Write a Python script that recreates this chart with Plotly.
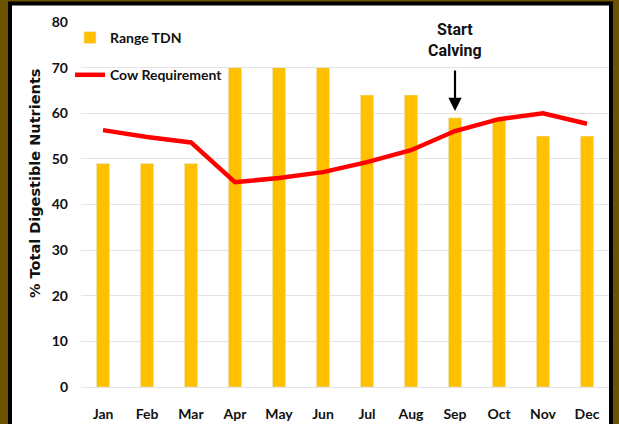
import plotly.graph_objects as go

months = ["Jan", "Feb", "Mar", "Apr", "May", "Jun", "Jul", "Aug", "Sep", "Oct", "Nov", "Dec"]
range_tdn = [49, 49, 49, 70, 70, 70, 64, 64, 59, 59, 55, 55]
cow_req = [56.3, 54.8, 53.6, 44.9, 45.8, 47.1, 49.3, 51.9, 56.1, 58.7, 60.0, 57.7]
y_ticks = [0, 10, 20, 30, 40, 50, 60, 70, 80]

TICKF = "Lato, sans-serif"
NARROW = "Roboto, Liberation Sans, sans-serif"

fig = go.Figure()
fig.add_trace(go.Bar(x=months, y=range_tdn, name="Range TDN", marker_color="#FFC000",
                     width=0.30, legendgroup="a"))
fig.add_trace(go.Scatter(x=months, y=cow_req, name="Cow Requirement", mode="lines",
                         line=dict(color="#FF0000", width=4.5), legendgroup="b"))

W, H = 619, 424
L, R, T, B = 81, 10, 22, 37
pw, ph = W - L - R, H - T - B

def px2x(px):
    return (px - L) / pw

def py2y(py):
    return (H - B - py) / ph

# frame: brown outer background with black line and white interior
fig.add_shape(type="rect", xref="paper", yref="paper",
              x0=px2x(10), x1=px2x(611), y0=py2y(440), y1=py2y(3.5),
              line=dict(color="black", width=4), fillcolor="white", layer="below")

fig.add_annotation(x="Sep", y=76, text="Start<br>Calving", showarrow=False,
                   font=dict(family=NARROW, size=16, color="#111", weight="bold"), yanchor="middle")
fig.add_annotation(x="Sep", y=60.5, text="", showarrow=True, ax=0, ay=-42,
                   arrowhead=2, arrowsize=1.2, arrowwidth=2.2, arrowcolor="black", standoff=0)

fig.add_annotation(xref="paper", yref="paper", x=px2x(25), y=py2y(184),
                   text="<b>% Total Digestible Nutrients</b>", textangle=-90, showarrow=False,
                   font=dict(family="DejaVu Sans, sans-serif", size=14.5, color="#111"))

tickfont = dict(family=TICKF, size=14, color="#111", weight="bold")

fig.update_layout(
    width=W, height=H,
    margin=dict(l=L, r=R, t=T, b=B, pad=0, autoexpand=False),
    paper_bgcolor="#6B5300",
    plot_bgcolor="rgba(0,0,0,0)",
    showlegend=True,
    legend=dict(x=px2x(70), y=py2y(22), xanchor="left", yanchor="top",
                bgcolor="rgba(0,0,0,0)", traceorder="grouped", tracegroupgap=16,
                font=tickfont),
    font=dict(family=TICKF, size=14, color="#111"),
    bargap=0.7,
)
fig.update_xaxes(showgrid=False, showline=False, zeroline=False, automargin=False,
                 tickfont=tickfont, ticklabelstandoff=17, fixedrange=True)
fig.update_yaxes(range=[0, 80], tickvals=y_ticks, showgrid=True, gridcolor="#E3E3E3", gridwidth=1,
                 zeroline=True, zerolinecolor="#E3E3E3", zerolinewidth=1, showline=False,
                 automargin=False, tickfont=tickfont, ticklabelstandoff=12, fixedrange=True)

fig.write_html("out.html", config={"displayModeBar": False},
               post_script="document.body.style.margin='0';")
